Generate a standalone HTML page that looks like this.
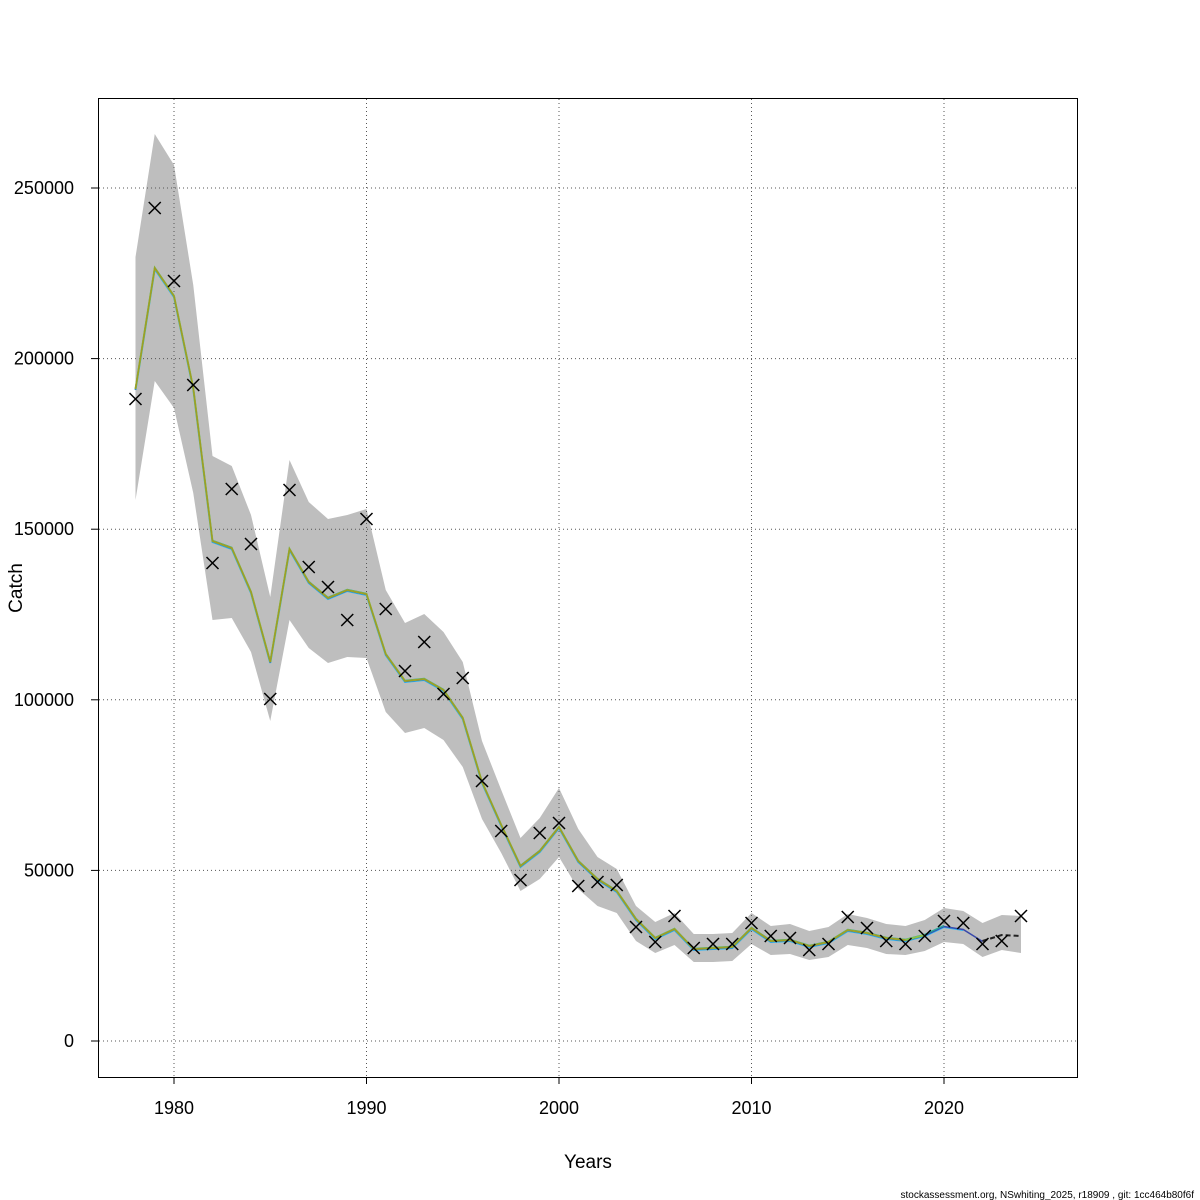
<!DOCTYPE html>
<html><head><meta charset="utf-8"><style>body{margin:0;background:#fff}svg{display:block}</style></head>
<body>
<svg id="s" width="1200" height="1200" xmlns="http://www.w3.org/2000/svg" font-family="Liberation Sans, sans-serif">
<rect width="1200" height="1200" fill="#fff"/>
<g id="band"></g>
<g id="grid" stroke="#555" stroke-dasharray="1,3" stroke-width="1"></g>
<g id="lines"></g>
<g id="pts" stroke="#000" stroke-width="1.5"></g>
<rect x="98.5" y="98.5" width="979" height="979" fill="none" stroke="#000"/>
<g id="ax" stroke="#000"></g>
<g font-size="18" fill="#000" id="lab"></g>
<text x="588" y="1168" font-size="19" text-anchor="middle">Years</text>
<text transform="translate(22,588) rotate(-90)" font-size="19" text-anchor="middle">Catch</text>
<text x="1194" y="1198" font-size="10" text-anchor="end">stockassessment.org, NSwhiting_2025, r18909 , git: 1cc464b80f6f</text>
</svg>
<script>
const X=y=>174+(y-1980)*19.25, Y=v=>1041-v*0.003412;
const obs=[399,208,281,385,563,489,544,699,490,567,587,620,519,609,671,642,694,678,781,831,880,833,823,886,882,885,927,942,916,948,944,944,923,936,938,950,944,917,928,941,944,936,921,923,944,941,916];
const fit=[389,268,296,388,541,548,592,662,549,582,598,590,594,654,681,679,690,718,782,825,866,851,827,861,879,891,919,938,929,949,948,947,928,941,940,946,942,930,933,938,940,935,926,929,941,935,936];
const up=[257,134,165,285,456,466,515,597,460,502,519,515,509,590,623,614,632,662,741,790,838,818,788,829,857,869,906,922,913,934,934,933,913,926,924,931,927,914,918,924,926,920,908,911,923,915,916];
const lo=[500,381,408,493,620,618,652,721,620,648,663,657,658,712,733,728,740,767,819,853,891,879,857,889,906,913,941,953,945,962,962,961,944,955,954,960,957,945,948,954,955,951,942,944,957,950,953];
const ns="http://www.w3.org/2000/svg";
function el(p,t,a){const e=document.createElementNS(ns,t);for(const k in a)e.setAttribute(k,a[k]);document.getElementById(p).appendChild(e);return e;}
let d="";up.forEach((v,i)=>d+=(i?"L":"M")+X(1978+i)+","+v);
for(let i=lo.length-1;i>=0;i--)d+="L"+X(1978+i)+","+lo[i];
el("band","path",{d:d+"Z",fill:"#bebebe"});
for(let y=1980;y<=2020;y+=10)el("grid","line",{x1:X(y),x2:X(y),y1:99,y2:1077});
for(let v=0;v<=250000;v+=50000)el("grid","line",{x1:99,x2:1077,y1:Y(v),y2:Y(v)});
function line(arr,n,col,off,w){let p="";for(let i=0;i<n;i++)p+=(i?"L":"M")+X(1978+i)+","+(arr[i]+off);el("lines","path",{d:p,fill:"none",stroke:col,"stroke-width":w});}
line(fit,44,"#29b6f6",1,2);line(fit,45,"#3949ab",0.5,1.5);line(fit,43,"#26a69a",-0.5,1.5);line(fit,42,"#8bc34a",0,2);line(fit,41,"#9e9d24",0,1.5);
let p="";for(let i=44;i<47;i++)p+=(i>44?"L":"M")+X(1978+i)+","+fit[i];
el("lines","path",{d:p,fill:"none",stroke:"#222","stroke-width":2,"stroke-dasharray":"5,3"});
obs.forEach((v,i)=>{const x=X(1978+i);el("pts","path",{d:`M${x-6},${v-6}L${x+6},${v+6}M${x-6},${v+6}L${x+6},${v-6}`});});
for(let y=1980;y<=2020;y+=10){el("ax","line",{x1:X(y),x2:X(y),y1:1077,y2:1084});const t=el("lab","text",{x:X(y),y:1114,"text-anchor":"middle"});t.textContent=y;}
for(let v=0;v<=250000;v+=50000){el("ax","line",{x1:91,x2:98,y1:Y(v),y2:Y(v)});const t=el("lab","text",{x:74,y:Y(v)+6,"text-anchor":"end"});t.textContent=v;}
</script>
</body></html>
